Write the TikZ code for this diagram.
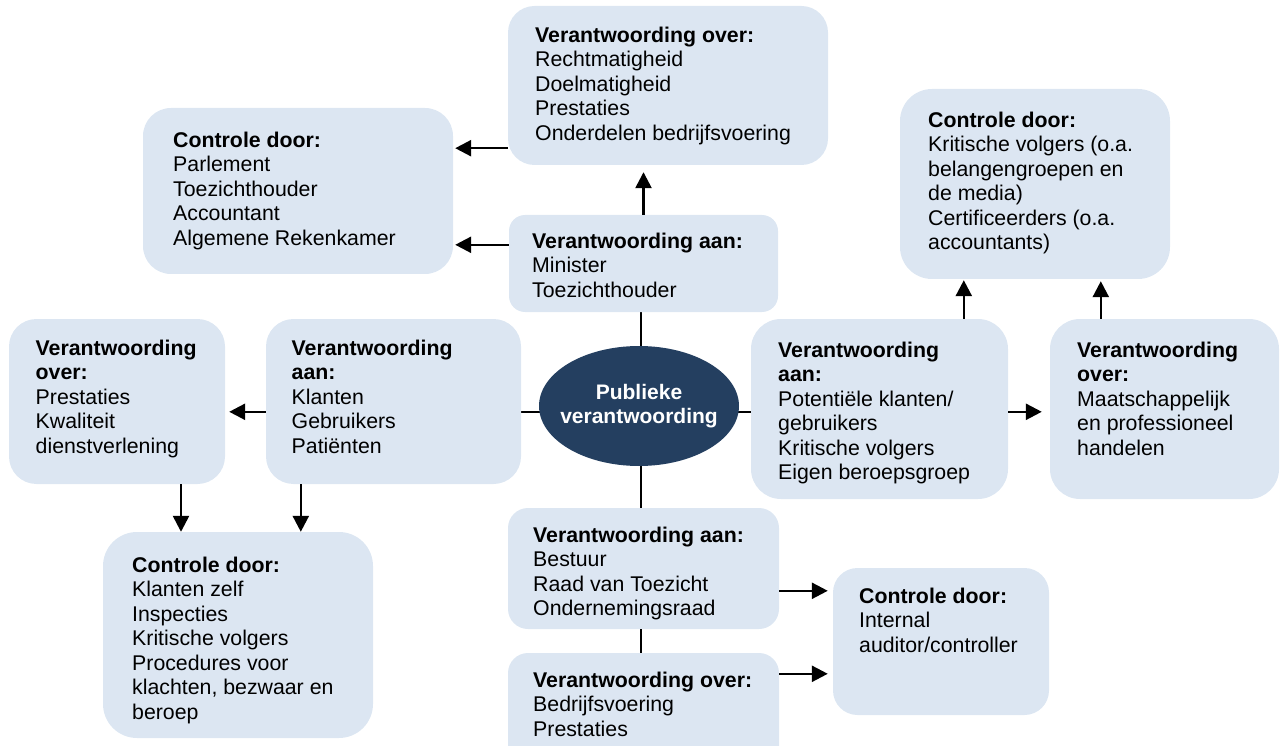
\documentclass[tikz,border=0pt]{standalone}
\usepackage{fontspec}
\setmainfont{Liberation Sans}
\usetikzlibrary{shapes.geometric,arrows.meta,backgrounds}
\definecolor{boxfill}{HTML}{DCE6F2}
\definecolor{ovalfill}{HTML}{243F60}

\tikzset{
  panel/.style={fill=boxfill, draw=none, inner sep=0pt},
  boxtext/.style={anchor=north west, inner sep=0pt, align=left,
                  font=\fontsize{21.3}{24.5}\selectfont},
  link/.style={line width=2.5pt},
  arrowlink/.style={link, -{Triangle[length=16pt,width=16pt]}},
}
\newcommand{\firstline}{\rule{0pt}{16pt}}

\begin{document}
\begin{tikzpicture}[x=1pt,y=-1pt]
\useasboundingbox (0,0) rectangle (1283,746);
\clip (0,0) rectangle (1283,746);

% rounded panels
\node[panel, minimum width=320pt, minimum height=159pt, rounded corners=26.5pt] (b1) at (668,85.5) {};
\node[panel, minimum width=310pt, minimum height=166pt, rounded corners=28pt] (b2) at (298,191) {};
\node[panel, minimum width=269pt, minimum height=97pt, rounded corners=16pt] (b3) at (643.5,263.5) {};
\node[panel, minimum width=216pt, minimum height=165pt, rounded corners=27.5pt] (b4) at (117,401.5) {};
\node[panel, minimum width=255pt, minimum height=165pt, rounded corners=27.5pt] (b5) at (393.5,401.5) {};
\node[panel, minimum width=257pt, minimum height=180pt, rounded corners=30pt] (b6) at (879.5,409) {};
\node[panel, minimum width=270pt, minimum height=190pt, rounded corners=32pt] (b7) at (1035,184) {};
\node[panel, minimum width=229pt, minimum height=180pt, rounded corners=30pt] (b8) at (1164.5,409) {};
\node[panel, minimum width=270pt, minimum height=206pt, rounded corners=34pt] (b9) at (238,635) {};
\node[panel, minimum width=271pt, minimum height=121pt, rounded corners=20pt] (b10) at (643.5,568.5) {};
\node[panel, minimum width=271pt, minimum height=122pt, rounded corners=20pt] (b11) at (643.5,714) {};
\node[panel, minimum width=216pt, minimum height=147pt, rounded corners=24.5pt] (b12) at (941,641.5) {};

% central oval and its caption
\node[ellipse, fill=ovalfill, minimum width=200pt, minimum height=120pt, inner sep=0pt] (e) at (639,406) {};
\node[text=white, align=center, inner sep=0pt, font=\bfseries\fontsize{21}{24.5}\selectfont]
      (et) at (e.center) {Publieke\\verantwoording};

% panel texts
\node[boxtext] (t1) at (535,26) {\firstline\textbf{Verantwoording over:}\\Rechtmatigheid\\Doelmatigheid\\Prestaties\\Onderdelen bedrijfsvoering};
\node[boxtext] (t2) at (173,131) {\firstline\textbf{Controle door:}\\Parlement\\Toezichthouder\\Accountant\\Algemene Rekenkamer};
\node[boxtext] (t3) at (532,232) {\firstline\textbf{Verantwoording aan:}\\Minister\\Toezichthouder};
\node[boxtext] (t4) at (35.5,339) {\firstline\textbf{Verantwoording}\\\textbf{over:}\\Prestaties\\Kwaliteit\\dienstverlening};
\node[boxtext] (t5) at (291.5,339) {\firstline\textbf{Verantwoording}\\\textbf{aan:}\\Klanten\\Gebruikers\\Patiënten};
\node[boxtext] (t6) at (778,341) {\firstline\textbf{Verantwoording}\\\textbf{aan:}\\Potentiële klanten/\\gebruikers\\Kritische volgers\\Eigen beroepsgroep};
\node[boxtext] (t7) at (928,111) {\firstline\textbf{Controle door:}\\Kritische volgers (o.a.\\belangengroepen en\\de media)\\Certificeerders (o.a.\\accountants)};
\node[boxtext] (t8) at (1077,341) {\firstline\textbf{Verantwoording}\\\textbf{over:}\\Maatschappelijk\\en professioneel\\handelen};
\node[boxtext] (t9) at (132,556) {\firstline\textbf{Controle door:}\\Klanten zelf\\Inspecties\\Kritische volgers\\Procedures voor\\klachten, bezwaar en\\beroep};
\node[boxtext] (t10) at (533,526) {\firstline\textbf{Verantwoording aan:}\\Bestuur\\Raad van Toezicht\\Ondernemingsraad};
\node[boxtext] (t11) at (533,671) {\firstline\textbf{Verantwoording over:}\\Bedrijfsvoering\\Prestaties};
\node[boxtext] (t12) at (859,587) {\firstline\textbf{Controle door:}\\Internal\\auditor/controller};

% connectors through the oval
\begin{pgfonlayer}{background}
  \draw[link] ([yshift=-93pt]b5.north east) -- ([yshift=-93pt]b6.north west);
  \draw[link] ([xshift=2pt]e.center |- b3.south) -- ([xshift=2pt]e.center |- b10.north);
\end{pgfonlayer}
\draw[link] ([xshift=2pt]e.center |- b10.south) -- ([xshift=2pt]e.center |- b11.north);

% arrows
\draw[arrowlink, shorten >=2pt] ([yshift=17pt]b1.south west) -- ([yshift=17pt]b1.south west -| b2.east);
\draw[arrowlink, shorten >=2pt] ([yshift=-30pt]b3.north west) -- ([yshift=-30pt]b3.north west -| b2.east);
\draw[arrowlink, shorten >=7pt] (b3.north) -- (b3.north |- b1.south);
\draw[arrowlink, shorten >=4pt] ([yshift=-93pt]b5.north west) -- ([yshift=-93pt]b5.north west -| b4.east);
\draw[arrowlink] ([xshift=64pt]b4.south) -- ([xshift=64pt]b4.south |- b9.north);
\draw[arrowlink] ([xshift=35pt]b5.south west) -- ([xshift=35pt]b5.south west |- b9.north);
\draw[arrowlink, shorten >=1pt] ([xshift=213pt]b6.north west) -- ([xshift=213pt]b6.north west |- b7.south);
\draw[arrowlink, shorten >=2pt] ([xshift=51pt]b8.north west) -- ([xshift=51pt]b8.north west |- b7.south);
\draw[arrowlink, shorten >=8pt] ([yshift=-93pt]b6.north east) -- ([yshift=-93pt]b6.north east -| b8.west);
\draw[arrowlink, shorten >=5pt] ([yshift=-83pt]b10.north east) -- ([yshift=-83pt]b10.north east -| b12.west);
\draw[arrowlink, shorten >=5pt] ([yshift=-21pt]b11.north east) -- ([yshift=-21pt]b11.north east -| b12.west);
\end{tikzpicture}
\end{document}
